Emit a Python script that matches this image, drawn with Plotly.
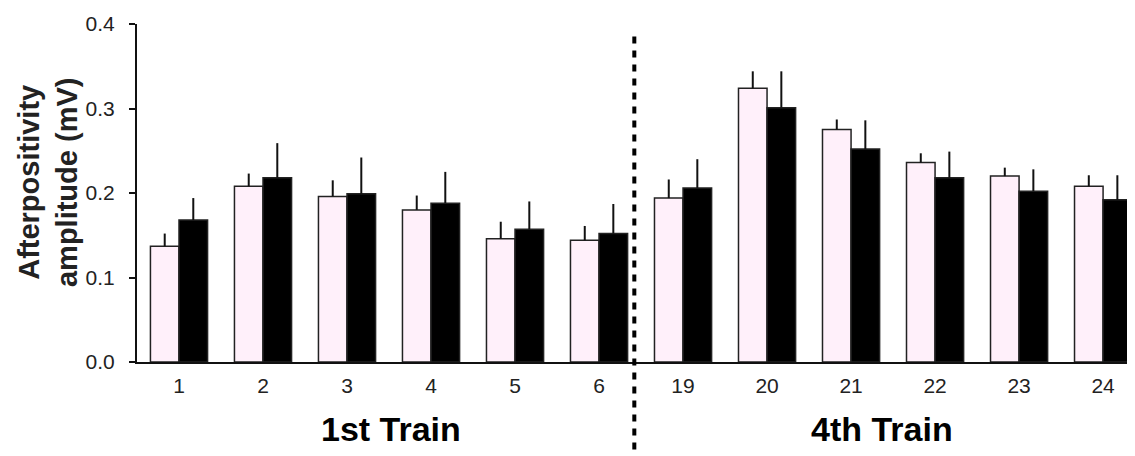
import plotly.graph_objects as go

categories = ["1", "2", "3", "4", "5", "6", "19", "20", "21", "22", "23", "24"]
control = [0.137, 0.208, 0.196, 0.180, 0.146, 0.144, 0.194, 0.324, 0.275, 0.236, 0.220, 0.208]
control_err = [0.015, 0.015, 0.019, 0.017, 0.020, 0.017, 0.022, 0.020, 0.012, 0.011, 0.010, 0.013]
treated = [0.168, 0.218, 0.199, 0.188, 0.157, 0.152, 0.206, 0.301, 0.252, 0.218, 0.202, 0.192]
treated_err = [0.026, 0.041, 0.043, 0.037, 0.033, 0.035, 0.034, 0.043, 0.034, 0.031, 0.026, 0.029]
group_labels = ["1st Train", "4th Train"]
y_ticks = [0.0, 0.1, 0.2, 0.3, 0.4]

tick_font = dict(family="Liberation Sans Narrow, Arial Narrow, Liberation Sans, Arial", size=21, color="#222")

fig = go.Figure()
fig.add_trace(go.Bar(
    x=categories, y=control, name="control",
    marker=dict(color="#fff0fa", line=dict(color="#222", width=1.5)),
    error_y=dict(type="data", symmetric=False, array=control_err,
                 arrayminus=[0] * len(control_err), thickness=2, width=0, color="#111"),
))
fig.add_trace(go.Bar(
    x=categories, y=treated, name="treated",
    marker=dict(color="#000000", line=dict(color="#222", width=1.5)),
    error_y=dict(type="data", symmetric=False, array=treated_err,
                 arrayminus=[0] * len(treated_err), thickness=2, width=0, color="#111"),
))

# the page body has an 8px default margin, so the figure is sized to fill the rest
fig.update_layout(
    width=1127, height=448,
    margin=dict(l=129, r=0, t=16, b=94),
    paper_bgcolor="white", plot_bgcolor="white",
    barmode="group", bargap=0.32, bargroupgap=0,
    showlegend=False,
    xaxis=dict(type="category", range=[-0.5, 11.38], showline=True, linecolor="#111",
               linewidth=2, ticks="", tickfont=tick_font, showgrid=False,
               ticklabelstandoff=4, automargin=False),
    yaxis=dict(range=[0, 0.4], tickvals=y_ticks, tickformat=".1f", showline=True,
               linecolor="#111", linewidth=2, ticks="outside", ticklen=6, tickwidth=1.5,
               tickcolor="#111", tickfont=tick_font, showgrid=False, zeroline=False,
               ticklabelstandoff=10, automargin=False),
)

fig.add_annotation(text="<b>Afterpositivity<br>amplitude (mV)</b>", textangle=-90,
                   xref="paper", yref="paper", x=-0.089, y=0.53, showarrow=False,
                   xanchor="center", yanchor="middle",
                   font=dict(family="Liberation Sans, Arial", size=29, color="#222"),
                   )
fig.add_annotation(text="<b>" + group_labels[0] + "</b>", xref="x", yref="paper",
                   x=2.52, y=-0.199, showarrow=False, xanchor="center", yanchor="middle",
                   font=dict(family="Liberation Sans, Arial", size=34, color="black"))
fig.add_annotation(text="<b>" + group_labels[1] + "</b>", xref="x", yref="paper",
                   x=8.37, y=-0.199, showarrow=False, xanchor="center", yanchor="middle",
                   font=dict(family="Liberation Sans, Arial", size=34, color="black"))

fig.add_shape(type="line", xref="x", yref="paper", x0=5.42, x1=5.42, y0=-0.3, y1=0.967,
              line=dict(color="black", width=4, dash="7px,7px"))

fig.write_html("out.html")
